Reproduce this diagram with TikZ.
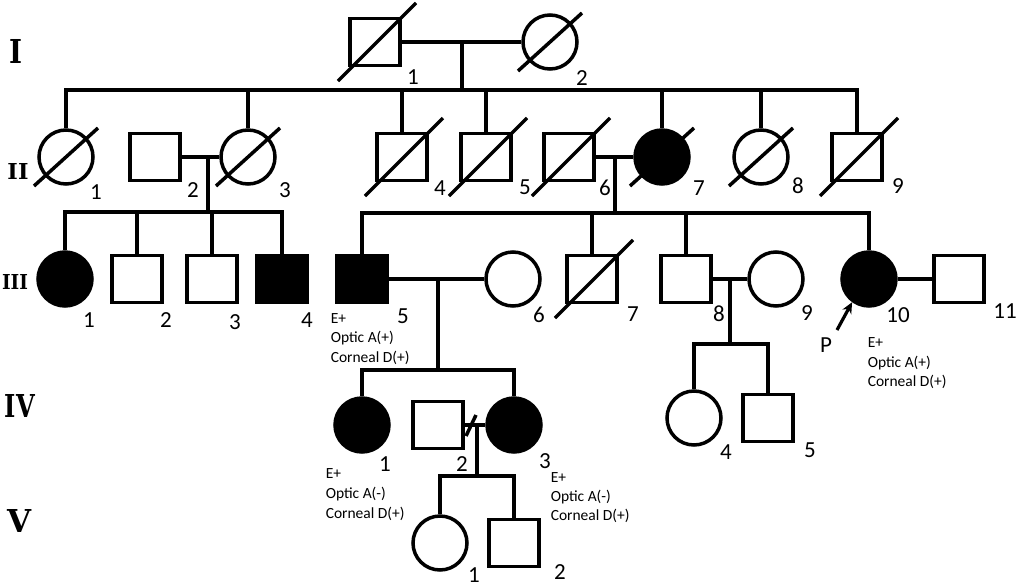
\documentclass[tikz,border=0pt]{standalone}
\usepackage{fontspec}
\usepackage{graphicx}
\setmainfont{Carlito}
\newfontfamily\romanfnt{DejaVu Serif}
\usetikzlibrary{arrows.meta}
\newcommand{\genlbl}[3]{\resizebox{#2}{#3}{\romanfnt\bfseries #1}}
\begin{document}
\begin{tikzpicture}[x=1pt,y=-1pt, line width=3.5pt,
  sq/.style={draw, rectangle, minimum width=50pt, minimum height=47pt, inner sep=0pt},
  ci/.style={draw, circle, minimum size=54pt, inner sep=0pt},
  aff/.style={fill=black},
  num/.style={inner sep=0pt, font=\fontsize{23}{27}\selectfont},
  note/.style={inner sep=0pt, anchor=base west, font=\fontsize{15.5}{19}\selectfont},
  gen/.style={inner sep=0pt},
  slash/.style={line width=3.5pt}]
\useasboundingbox (0,0) rectangle (1021,587);

% generation labels
\node[gen] (gI)   at (16,51)  {\genlbl{I}{13pt}{24pt}};
\node[gen] (gII)  at (18,171) {\genlbl{II}{21pt}{16pt}};
\node[gen] (gIII) at (15,282) {\genlbl{III}{26pt}{15pt}};
\node[gen] (gIV)  at (20,406) {\genlbl{IV}{30pt}{23pt}};
\node[gen] (gV)   at (20,521) {\genlbl{V}{24pt}{23pt}};

% generation I
\node[sq] (I1) at (375,42) {};
\node[ci] (I2) at (550,42) {};

% generation II
\node[ci] (II1) at (66,157) {};
\node[sq] (II2) at (155,157) {};
\node[ci] (II3) at (248,157) {};
\node[sq] (II4) at (402,157) {};
\node[sq] (II5) at (486,157) {};
\node[sq] (II6) at (569,157) {};
\node[ci,aff] (II7) at (662,157) {};
\node[ci] (II8) at (761,157) {};
\node[sq] (II9) at (857,157) {};

% generation III
\node[ci,aff] (III1) at (65,279) {};
\node[sq] (III2) at (137,279) {};
\node[sq] (III3) at (212,279) {};
\node[sq,aff] (III4) at (282,279) {};
\node[sq,aff] (III5) at (362,279) {};
\node[ci] (III6) at (513,279) {};
\node[sq] (III7) at (592,279) {};
\node[sq] (III8) at (686,279) {};
\node[ci] (III9) at (776,279) {};
\node[ci,aff] (III10) at (869,279) {};
\node[sq] (III11) at (959,279) {};

% generation IV
\node[ci,aff] (IV1) at (362,425) {};
\node[sq] (IV2) at (438,425) {};
\node[ci,aff] (IV3) at (514,425) {};
\node[ci] (IV4) at (694,418) {};
\node[sq] (IV5) at (768,418) {};

% generation V
\node[ci] (V1) at (440,543) {};
\node[sq] (V2) at (514,543) {};

% deceased slashes
\foreach \n in {I1,II4,II5,II6,II9,III7}
  \draw[slash] ([shift={(-37,39)}]\n.center) -- ([shift={(41,-39)}]\n.center);
\foreach \n in {I2,II1,II3,II7,II8}
  \draw[slash] ([shift={(-32,29)}]\n.center) -- ([shift={(32,-29)}]\n.center);

% I1 x I2
\coordinate (mI) at (462,42);
\coordinate (sI) at (462,90);
\draw (I1.east) -- (I2.west);
\draw (mI) -- (sI);
\draw (II1.north) |- (sI) -| (II9.north);
\foreach \c in {II3,II4,II5,II7,II8}
  \draw (\c.north) -- (\c.north |- sI);

% II2 x II3
\coordinate (mIIa) at (208,157);
\coordinate (sIIa) at (208,212);
\draw (II2.east) -- (II3.west);
\draw (mIIa) -- (sIIa);
\draw (III1.north) |- (sIIa) -| (III4.north);
\foreach \c in {III2,III3}
  \draw (\c.north) -- (\c.north |- sIIa);

% II6 x II7
\coordinate (mIIb) at (615,157);
\coordinate (sIIb) at (615,213);
\draw (II6.east) -- (II7.west);
\draw (mIIb) -- (sIIb);
\draw (III5.north) |- (sIIb) -| (III10.north);
\foreach \c in {III7,III8}
  \draw (\c.north) -- (\c.north |- sIIb);

% III5 x III6
\coordinate (mIIIa) at (438,279);
\coordinate (sIIIa) at (438,370);
\draw (III5.east) -- (III6.west);
\draw (mIIIa) -- (sIIIa);
\draw (IV1.north) |- (sIIIa) -| (IV3.north);

% III8 x III9
\coordinate (mIIIb) at (730,279);
\coordinate (sIIIb) at (730,344);
\draw (III8.east) -- (III9.west);
\draw (mIIIb) -- (sIIIb);
\draw (IV4.north) |- (sIIIb) -| (IV5.north);

% III10 x III11
\draw (III10.east) -- (III11.west);

% IV2 x IV3 (separated)
\coordinate (sep) at (471,425);
\coordinate (mIV) at (477,425);
\coordinate (sIV) at (477,476);
\draw (IV2.east) -- (IV3.west);
\draw[slash] ([shift={(-5,11)}]sep) -- ([shift={(5,-10)}]sep);
\draw (mIV) -- (sIV);
\draw (V1.north) |- (sIV) -| (V2.north);

% proband arrow
\coordinate (ptail) at (837,330);
\draw[-{Stealth[length=11pt,width=10pt]}, line width=3.2pt] (ptail) -- (III10.234);
\node[num] (P) at (826,345) {P};

% individual numbers
\node[num] (nI1) at (413,77) {1};
\node[num] (nI2) at (582,78) {2};
\node[num] (nII1) at (96,192) {1};
\node[num] (nII2) at (193,190) {2};
\node[num] (nII3) at (285,190) {3};
\node[num] (nII4) at (440,188) {4};
\node[num] (nII5) at (525,187) {5};
\node[num] (nII6) at (605,188) {6};
\node[num] (nII7) at (699,188) {7};
\node[num] (nII8) at (798,186) {8};
\node[num] (nII9) at (898,186) {9};
\node[num] (nIII1) at (89,320) {1};
\node[num] (nIII2) at (166,320) {2};
\node[num] (nIII3) at (235,322) {3};
\node[num] (nIII4) at (307,320) {4};
\node[num] (nIII5) at (403,316) {5};
\node[num] (nIII6) at (539,315) {6};
\node[num] (nIII7) at (633,314) {7};
\node[num] (nIII8) at (719,314) {8};
\node[num] (nIII9) at (807,313) {9};
\node[num] (nIII10) at (898,315) {10};
\node[num] (nIII11) at (1005,311) {11};
\node[num] (nIV1) at (385,464) {1};
\node[num] (nIV2) at (462,464) {2};
\node[num] (nIV3) at (545,461) {3};
\node[num] (nIV4) at (726,452) {4};
\node[num] (nIV5) at (810,450) {5};
\node[num] (nV1) at (474,575) {1};
\node[num] (nV2) at (560,572) {2};

% annotations
\node[note] (a5a) at (329,323) {E+};
\node[note] (a5b) at (329,342) {Optic A(+)};
\node[note] (a5c) at (329,362) {Corneal D(+)};
\node[note] (a10a) at (866,347) {E+};
\node[note] (a10b) at (866,367) {Optic A(+)};
\node[note] (a10c) at (866,386) {Corneal D(+)};
\node[note] (b1a) at (324,478) {E+};
\node[note] (b1b) at (324,498) {Optic A(-)};
\node[note] (b1c) at (324,518) {Corneal D(+)};
\node[note] (b3a) at (549,482) {E+};
\node[note] (b3b) at (549,501) {Optic A(-)};
\node[note] (b3c) at (549,520) {Corneal D(+)};
\end{tikzpicture}
\end{document}
